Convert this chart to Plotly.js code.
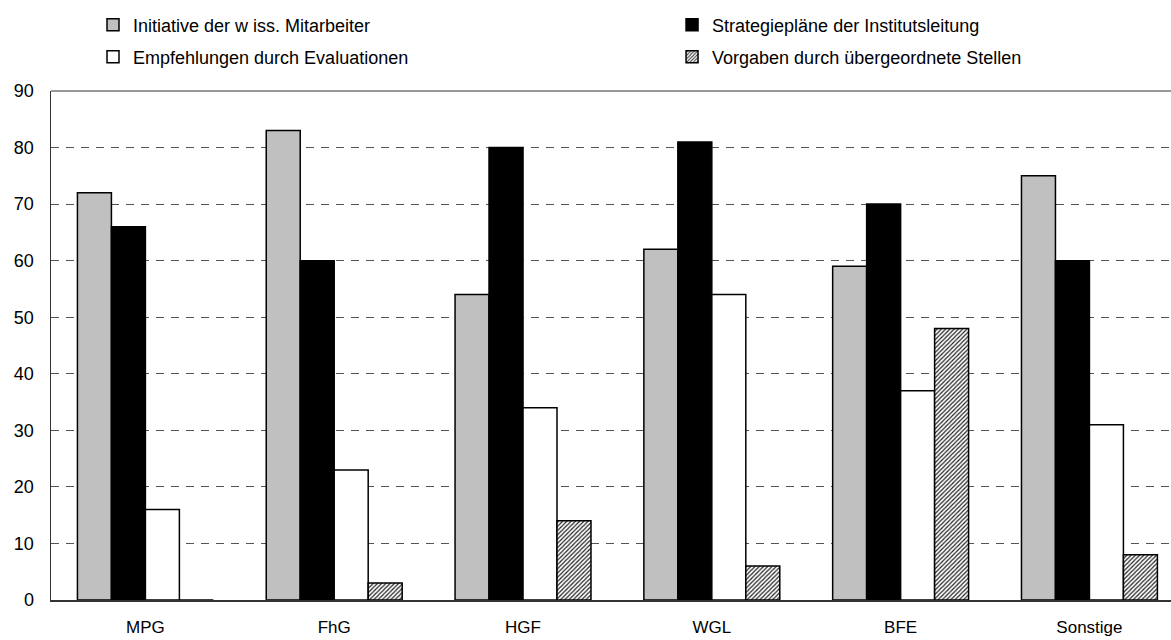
<!DOCTYPE html>
<html>
<head>
<meta charset="utf-8">
<script src="https://cdn.plot.ly/plotly-3.0.1.min.js"></script>
<style>
  html, body { margin: 0; padding: 0; background: #ffffff; }
  #chart { width: 1171px; height: 640px; }
</style>
</head>
<body>
<div id="chart"></div>
<script>
const categories = ["MPG", "FhG", "HGF", "WGL", "BFE", "Sonstige"];
const seriesNames = [
  "Initiative der w iss. Mitarbeiter",
  "Strategiepläne der Institutsleitung",
  "Empfehlungen durch Evaluationen",
  "Vorgaben durch übergeordnete Stellen"
];
const initiative = [72, 83, 54, 62, 59, 75];
const strategie = [66, 60, 80, 81, 70, 60];
const empfehlungen = [16, 23, 34, 54, 37, 31];
const vorgaben = [0, 3, 14, 6, 48, 8];
const yTicks = [0, 10, 20, 30, 40, 50, 60, 70, 80, 90];

const FONT = "Liberation Sans, Arial, sans-serif";
const outline = { color: "#000000", width: 1.5 };

function bar(name, values, color, legendId, pattern) {
  const marker = { color: color, line: outline };
  if (pattern) marker.pattern = pattern;
  return {
    type: "bar",
    name: name,
    x: categories,
    y: values,
    marker: marker,
    legend: legendId,
    hoverinfo: "x+y+name"
  };
}

const traces = [
  bar(seriesNames[0], initiative, "#c0c0c0", "legend"),
  bar(seriesNames[1], strategie, "#000000", "legend2"),
  bar(seriesNames[2], empfehlungen, "#ffffff", "legend3"),
  bar(seriesNames[3], vorgaben, "#ffffff", "legend4",
      { shape: "/", fgcolor: "#222222", bgcolor: "#ffffff", size: 3, solidity: 0.4 })
];

function legendAt(x, y) {
  return {
    x: x, y: y, xanchor: "left", yanchor: "middle",
    orientation: "h", bgcolor: "rgba(0,0,0,0)", borderwidth: 0,
    font: { family: FONT, size: 18, color: "#000000" },
    itemwidth: 30
  };
}

const layout = {
  width: 1171,
  height: 640,
  margin: { l: 51, r: 0, t: 91, b: 40 },
  paper_bgcolor: "#ffffff",
  plot_bgcolor: "#ffffff",
  font: { family: FONT, size: 18, color: "#000000" },
  barmode: "group",
  bargap: 0.28,
  bargroupgap: 0,
  showlegend: true,
  legend: legendAt(0.0375, 1.1297),
  legend2: legendAt(0.5545, 1.1297),
  legend3: legendAt(0.0375, 1.0668),
  legend4: legendAt(0.5545, 1.0668),
  xaxis: {
    type: "category",
    range: [-0.5, 5.432],
    showline: true,
    linecolor: "#333333",
    linewidth: 1.5,
    showgrid: false,
    zeroline: false,
    ticks: "",
    ticklabelstandoff: 11,
    tickfont: { family: FONT, size: 17, color: "#000000" },
    fixedrange: true
  },
  yaxis: {
    range: [0, 90],
    tickvals: yTicks,
    ticktext: yTicks.map(String),
    showline: true,
    linecolor: "#333333",
    linewidth: 1.5,
    showgrid: true,
    gridcolor: "#555555",
    gridwidth: 1,
    griddash: "8px,7px",
    zeroline: false,
    ticks: "",
    ticklabelstandoff: 12,
    tickfont: { family: FONT, size: 18, color: "#000000" },
    fixedrange: true
  },
  shapes: [
    { type: "line", xref: "paper", yref: "paper", x0: 0, x1: 1, y0: 1, y1: 1,
      line: { color: "#999999", width: 2 } }
  ]
};

Plotly.newPlot("chart", traces, layout, { displayModeBar: false, staticPlot: true });
</script>
</body>
</html>
